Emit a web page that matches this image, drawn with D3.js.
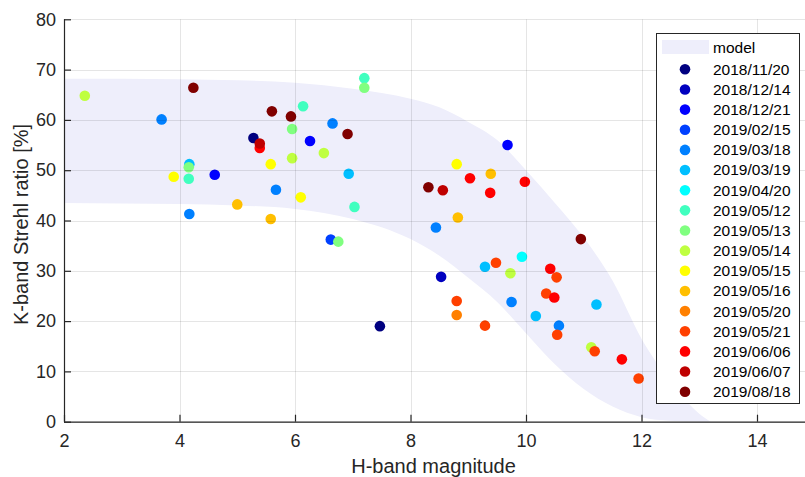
<!DOCTYPE html>
<html>
<head>
<meta charset="utf-8">
<script src="https://cdn.jsdelivr.net/npm/d3@7"></script>
<style>
  html, body { margin: 0; padding: 0; background: #fff; }
  svg { display: block; font-family: "Liberation Sans", Arial, Helvetica, sans-serif; }
</style>
</head>
<body>
<svg id="chart" width="805" height="477"></svg>
<script>
// ---------------- data ----------------
const dates = ["2018/11/20","2018/12/14","2018/12/21","2019/02/15","2019/03/18","2019/03/19",
  "2019/04/20","2019/05/12","2019/05/13","2019/05/14","2019/05/15","2019/05/16",
  "2019/05/20","2019/05/21","2019/06/06","2019/06/07","2019/08/18"];

// H-band magnitude per date
const hmag = [
  [5.28, 7.47],
  [8.53],
  [4.61, 6.26, 9.68],
  [6.62],
  [3.69, 4.17, 6.65, 5.67, 8.44, 9.75, 10.57],
  [4.17, 6.93, 9.29, 11.22, 10.17],
  [9.93],
  [4.16, 6.14, 7.03, 7.20],
  [4.16, 5.95, 7.20, 6.75],
  [2.36, 5.95, 6.50, 9.73, 11.13],
  [3.90, 5.58, 6.10, 8.80],
  [5.00, 5.58, 9.39, 8.82],
  [8.80],
  [9.48, 8.80, 9.29, 10.53, 10.35, 10.54, 11.19, 11.95],
  [5.39, 9.03, 9.38, 9.98, 10.42, 10.49, 11.66],
  [5.39, 8.56],
  [4.24, 5.60, 5.93, 6.91, 10.95, 8.31]
];
// K-band Strehl ratio [%] per date
const strehl = [
  [56.4, 19.0],
  [28.8],
  [49.1, 55.8, 55.0],
  [36.2],
  [60.1, 41.3, 59.3, 46.1, 38.6, 23.8, 19.1],
  [51.2, 49.3, 30.8, 23.3, 21.0],
  [32.8],
  [48.3, 62.7, 42.7, 68.3],
  [50.6, 58.2, 66.4, 35.8],
  [64.8, 52.4, 53.4, 29.5, 14.8],
  [48.7, 51.2, 44.6, 51.2],
  [43.2, 40.3, 49.3, 40.6],
  [21.2],
  [31.6, 24.0, 19.1, 28.7, 25.5, 17.3, 14.0, 8.6],
  [54.4, 48.4, 45.5, 47.7, 30.4, 24.7, 12.4],
  [55.3, 46.0],
  [66.4, 61.7, 60.7, 57.2, 36.3, 46.6]
];

// model band
const modelX     = [2, 3, 4, 5, 6, 7, 8, 8.5, 9, 9.5, 10, 10.5, 11, 11.5, 12, 12.5, 13, 13.2];
const modelUpper = [68.2, 68.2, 68.1, 67.9, 67.4, 66.2, 64.2, 62.5, 59.6, 56.0, 50.0, 43.5, 36.6, 28.0, 16.5, 8.0, 1.6, 0];
const modelLower = [43.5, 43.4, 43.3, 43.0, 42.3, 40.3, 36.3, 33.0, 28.6, 23.8, 17.6, 11.4, 6.5, 3.0, 0.9, 0.2, 0, 0];

const xTicks = [2, 4, 6, 8, 10, 12, 14];
const yTicks = [0, 10, 20, 30, 40, 50, 60, 70, 80];
const xLabel = "H-band magnitude";
const yLabel = "K-band Strehl ratio [%]";
const modelLabel = "model";

// ---------------- drawing ----------------
function jet(t) {
  const c = v => Math.max(0, Math.min(1, v));
  const r = c(1.5 - Math.abs(4 * t - 3));
  const g = c(1.5 - Math.abs(4 * t - 2));
  const b = c(1.5 - Math.abs(4 * t - 1));
  return d3.rgb(r * 255, g * 255, b * 255).formatHex();
}
const color = i => jet(i / (dates.length - 1));

const svg = d3.select("#chart");
const L = 64, R = 805, T = 19.3, B = 421.7;
const x = d3.scaleLinear().domain([2, 15]).range([L, L + 13 * 57.75]);
const y = d3.scaleLinear().domain([0, 80]).range([B, T]);
const textColor = "#262626";

svg.append("defs").append("clipPath").attr("id", "clip")
  .append("rect").attr("x", L).attr("y", T - 6).attr("width", R - L).attr("height", B - T + 6);

const plot = svg.append("g").attr("clip-path", "url(#clip)");

// model band
const band = modelX.map((v, i) => ({ x: v, lo: modelLower[i], hi: modelUpper[i] }));
plot.append("path")
  .datum(band)
  .attr("fill", "#eeeefb")
  .attr("d", d3.area().x(d => x(d.x)).y0(d => y(d.lo)).y1(d => y(d.hi)).curve(d3.curveMonotoneX));

// grid
const grid = svg.append("g").attr("stroke", "#000").attr("stroke-opacity", 0.1).attr("stroke-width", 1);
xTicks.forEach(t => grid.append("line")
  .attr("x1", Math.round(x(t)) + 0.5).attr("x2", Math.round(x(t)) + 0.5).attr("y1", T).attr("y2", B));
yTicks.forEach(t => grid.append("line")
  .attr("x1", L).attr("x2", R).attr("y1", Math.round(y(t)) + 0.5).attr("y2", Math.round(y(t)) + 0.5));

// points
dates.forEach((d, i) => {
  const pts = hmag[i].map((h, j) => [h, strehl[i][j]]);
  plot.append("g").selectAll("circle").data(pts).join("circle")
    .attr("cx", p => x(p[0])).attr("cy", p => y(p[1])).attr("r", 5.3)
    .attr("fill", color(i));
});

// axes
const xAxis = d3.axisBottom(x).tickValues(xTicks).tickSizeInner(-7).tickSizeOuter(0).tickPadding(13)
  .tickFormat(d3.format("d"));
const gx = svg.append("g").attr("transform", `translate(0,${B})`).call(xAxis);
gx.select(".domain").attr("d", `M${L},0.5H${R}`);
const yAxis = d3.axisLeft(y).tickValues(yTicks).tickSizeInner(-7).tickSizeOuter(0).tickPadding(8)
  .tickFormat(d3.format("d"));
const gy = svg.append("g").attr("transform", `translate(${L},0)`).call(yAxis);
gy.select(".domain").attr("d", `M0.5,${T}V${B}`);
[gx, gy].forEach(g => {
  g.selectAll("path, line").attr("stroke", textColor).attr("stroke-width", 1.2);
  g.selectAll("text").attr("fill", textColor).attr("font-size", 18)
    .attr("font-family", "'Liberation Sans', Arial, Helvetica, sans-serif");
});

// axis titles
svg.append("text").attr("x", (L + 805) / 2 - 1).attr("y", 473)
  .attr("text-anchor", "middle").attr("font-size", 20).attr("fill", textColor).text(xLabel);
svg.append("text").attr("transform", `translate(28,${(T + B) / 2 + 4}) rotate(-90)`)
  .attr("text-anchor", "middle").attr("font-size", 20).attr("fill", textColor).text(yLabel);

// legend
const lg = svg.append("g");
lg.append("rect").attr("x", 656.5).attr("y", 33.5).attr("width", 143).attr("height", 370)
  .attr("fill", "#fff").attr("stroke", textColor).attr("stroke-width", 1);
lg.append("rect").attr("x", 662).attr("y", 40).attr("width", 47).attr("height", 14).attr("fill", "#eeeefb");
lg.append("text").attr("x", 713).attr("y", 47.5).attr("dy", "0.35em")
  .attr("font-size", 15.5).attr("fill", "#000").text(modelLabel);
dates.forEach((d, i) => {
  const cy = 69.3 + i * 20.15;
  lg.append("circle").attr("cx", 685).attr("cy", cy).attr("r", 5.3).attr("fill", color(i));
  lg.append("text").attr("x", 713).attr("y", cy).attr("dy", "0.35em")
    .attr("font-size", 15.5).attr("fill", "#000").text(d);
});
</script>
</body>
</html>
